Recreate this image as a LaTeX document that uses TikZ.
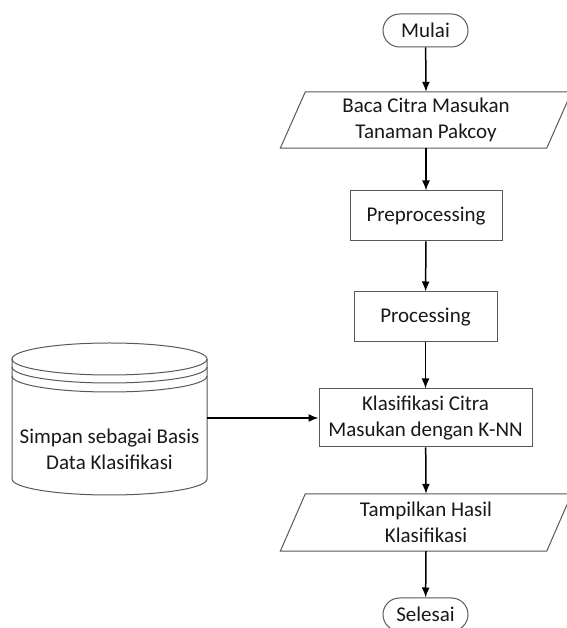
\documentclass[tikz,border=0pt]{standalone}
\usepackage{fontspec}
\setmainfont{Carlito}
\usetikzlibrary{arrows.meta,calc}
\tikzset{
  boxline/.style={draw=black!65, line width=1pt},
  txt/.style={font=\fontsize{21}{26}\selectfont, align=center, text=black!90, inner sep=0pt},
  procbox/.style={boxline, txt, rectangle},
  term/.style={boxline, txt, rectangle, rounded corners=16.5pt, minimum width=85pt, minimum height=33pt},
  iobox/.style={txt, rectangle, minimum width=266pt},
  flow/.style={draw=black, line width=1.5pt, -{Latex[length=10pt,width=8pt]}}
}
\begin{document}
\begin{tikzpicture}[x=1pt,y=1pt]
\useasboundingbox (0,0) rectangle (566,628);
\fill[white] (0,0) rectangle (566,628);

% nodes
\node[term] (start) at (425.5,597.5) {Mulai};
\node[iobox, minimum height=56pt] (in1) at (426,508) {Baca Citra Masukan\\Tanaman Pakcoy};
\draw[boxline] ([xshift=-12.5pt]in1.south west) -- ([xshift=12.5pt]in1.north west) -- ([xshift=12.5pt]in1.north east) -- ([xshift=-12.5pt]in1.south east) -- cycle;
\node[procbox, minimum width=152pt, minimum height=50pt] (pre) at (426,412) {Preprocessing};
\node[procbox, minimum width=143pt, minimum height=50pt] (proc) at (425.5,311) {Processing};
\node[procbox, minimum width=213pt, minimum height=58pt] (klas) at (425.5,210) {Klasifikasi Citra\\Masukan dengan K-NN};
\node[iobox, minimum height=57pt] (out) at (426,105.5) {Tampilkan Hasil\\Klasifikasi};
\draw[boxline] ([xshift=-12.5pt]out.south west) -- ([xshift=12.5pt]out.north west) -- ([xshift=12.5pt]out.north east) -- ([xshift=-12.5pt]out.south east) -- cycle;
\node[term] (end) at (425.5,13.5) {Selesai};

% database cylinder
\draw[boxline] (109.5,269) ellipse [x radius=97.5, y radius=16];
\draw[boxline] (12,261) arc[start angle=180, end angle=360, x radius=97.5, y radius=16];
\draw[boxline] (12,252) arc[start angle=180, end angle=360, x radius=97.5, y radius=16];
\draw[boxline] (12,269) -- (12,149) arc[start angle=180, end angle=360, x radius=97.5, y radius=16] -- (207,269);
\node[txt] (db) at (109.5,179) {Simpan sebagai Basis\\Data Klasifikasi};
\coordinate (dbR) at (207,210);

% connectors
\draw[flow] (start) -- (in1.north);
\draw[flow] (in1.south) -- (pre);
\draw[flow] (pre) -- (proc);
\draw[flow] (proc) -- (klas);
\draw[flow] (klas) -- (out.north);
\draw[flow] (out.south) -- (end);
\draw[flow] (dbR) -- (klas.west);
\end{tikzpicture}
\end{document}
